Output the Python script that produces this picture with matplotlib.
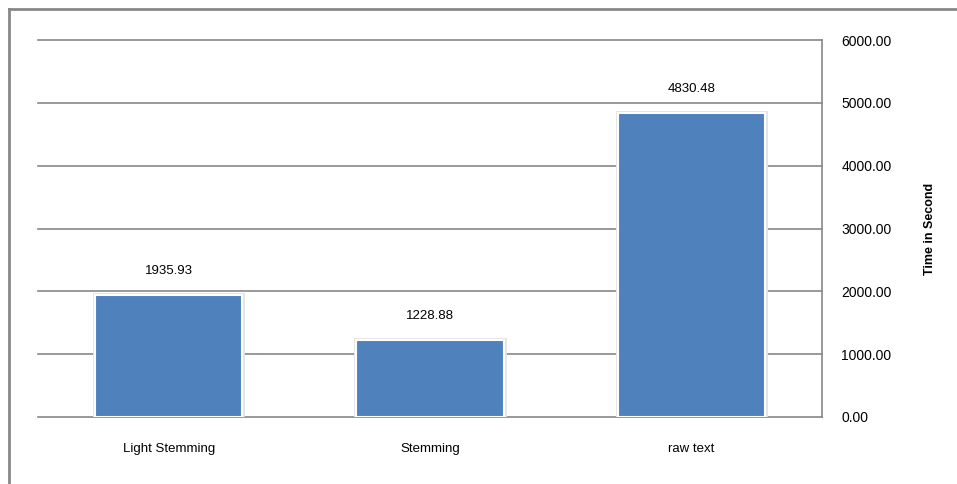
import matplotlib
matplotlib.use("Agg")
import matplotlib.pyplot as plt
from matplotlib.lines import Line2D
import matplotlib.patheffects as pe

categories = ["Light Stemming", "Stemming", "raw text"]
values = [1935.93, 1228.88, 4830.48]
yticks = [0, 1000, 2000, 3000, 4000, 5000, 6000]

plt.rcParams['font.family'] = ['Liberation Sans', 'DejaVu Sans']

fig = plt.figure(figsize=(9.57, 4.84), dpi=100)
W, H = 957, 484
ax = fig.add_axes([38 / W, 1 - 417 / H, (822 - 38) / W, (417 - 40) / H])

grid_c = '#878787'
# frame around chart area (left and top visible)
fig.add_artist(Line2D([9 / W, 9 / W], [0, 1 - 9 / H], transform=fig.transFigure, color='#888888', lw=2))
fig.add_artist(Line2D([9 / W, 1], [1 - 9 / H, 1 - 9 / H], transform=fig.transFigure, color='#888888', lw=2))

x = list(range(len(categories)))
bars = ax.bar(x, values, width=0.565, color='#4F81BD', edgecolor='white', linewidth=1.5, zorder=3)
for b in bars:
    b.set_path_effects([pe.Stroke(linewidth=3.5, foreground='#e4e4e4'), pe.Normal()])

for xi, v in zip(x, values):
    ax.annotate(f"{v:.2f}", (xi, v), xytext=(0, 24), textcoords='offset pixels',
                ha='center', va='center', fontsize=9.5, color='black')

ax.set_xlim(-0.5, len(categories) - 0.5)
ax.set_ylim(0, 6000)
ax.set_yticks(yticks)
ax.set_yticklabels([f"{t:.2f}" for t in yticks])
ax.yaxis.tick_right()
ax.yaxis.set_label_position('right')
ax.set_xticks(x)
ax.set_xticklabels(categories)
ax.tick_params(axis='x', length=0, pad=19, labelsize=9.5)
ax.tick_params(axis='y', length=0, pad=14, labelsize=10)
ax.grid(axis='y', color=grid_c, lw=1.2, zorder=1)
for gl in ax.get_ygridlines():
    gl.set_clip_on(False)
for s in ['left', 'top', 'bottom']:
    ax.spines[s].set_visible(False)
ax.spines['right'].set_color(grid_c)
ax.spines['right'].set_linewidth(1.2)
ax.set_ylabel("Time in Second", fontsize=9, fontweight='bold', labelpad=23)

fig.savefig("out.png", dpi=100)
